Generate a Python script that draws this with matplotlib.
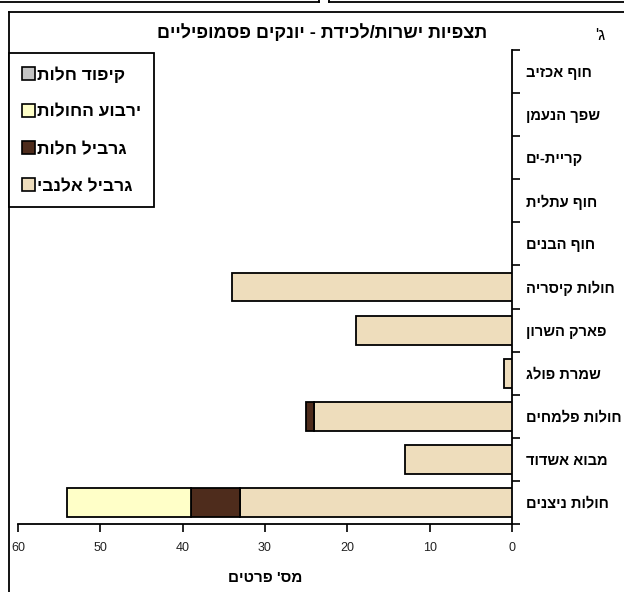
import matplotlib
matplotlib.use("Agg")
import matplotlib.pyplot as plt
from matplotlib.lines import Line2D
from matplotlib.patches import Patch
import numpy as np

plt.rcParams['font.family'] = ['Liberation Sans', 'DejaVu Sans']

# ---- data (logical order, top to bottom) ----
categories = ["חוף אכזיב", "שפך הנעמן", "קריית-ים", "חוף עתלית", "חוף הבנים",
              "חולות קיסריה", "פארק השרון", "שמרת פולג", "חולות פלמחים",
              "מבוא אשדוד", "חולות ניצנים"]
gerbil_allenby = [0, 0, 0, 0, 0, 34, 19, 1, 24, 13, 33]
gerbil_sands = [0, 0, 0, 0, 0, 0, 0, 0, 1, 0, 6]
jerboa = [0, 0, 0, 0, 0, 0, 0, 0, 0, 0, 15]
hedgehog = [0, 0, 0, 0, 0, 0, 0, 0, 0, 0, 0]
series_names = ["גרביל אלנבי", "גרביל חלות", "ירבוע החולות", "קיפוד חלות"]
x_ticks = [0, 10, 20, 30, 40, 50, 60]
title = "תצפיות ישרות/לכידת - יונקים פסמופיליים"
corner = "ג'"
x_label = "מס' פרטים"


def heb(s):
    # visual (right-to-left) order for a left-to-right renderer
    return s[::-1]


colors = ["#EEDDBC", "#4E2C1C", "#FFFFC8", "#C4C4C4"]

W, H = 624, 592
fig = plt.figure(figsize=(W / 100, H / 100), dpi=100)

# axes placement in pixels
ax_l, ax_r, ax_t, ax_b = 18, 512, 50, 524
ax = fig.add_axes([ax_l / W, 1 - ax_b / H, (ax_r - ax_l) / W, (ax_b - ax_t) / H])

n = len(categories)
y = np.arange(n)
series = [gerbil_allenby, gerbil_sands, jerboa, hedgehog]
left = np.zeros(n)
for vals, col in zip(series, colors):
    vals = np.array(vals, dtype=float)
    lw = [1.3 if v > 0 else 0 for v in vals]
    ax.barh(y, vals, left=left, height=0.67, color=col, edgecolor="black",
            linewidth=lw, zorder=3)
    left += vals

ax.set_ylim(n - 0.5, -0.5)
ax.set_xlim(60, 0)
ax.yaxis.tick_right()
ax.set_yticks(y)
ax.set_yticklabels([heb(c) for c in categories], fontsize=10.5, fontweight='bold')
ax.set_yticks(np.arange(-0.5, n, 1), minor=True)
ax.tick_params(axis='y', which='major', length=0, pad=10)
ax.tick_params(axis='y', which='minor', length=6, width=1.2, direction='out')
ax.set_xticks(x_ticks)
ax.set_xticklabels([str(v) for v in x_ticks], fontsize=9, color="#222222")
ax.tick_params(axis='x', length=6, width=1.2, direction='out', pad=7)

for s in ["left", "top"]:
    ax.spines[s].set_visible(False)
for s in ["right", "bottom"]:
    ax.spines[s].set_linewidth(1.3)

ax.set_xlabel(heb(x_label), fontsize=11, fontweight='bold', labelpad=12)

# legend (reverse order, Excel style)
handles = [Patch(facecolor=colors[i], edgecolor="black", linewidth=1.2)
           for i in [3, 2, 1, 0]]
labels = [heb(series_names[i]) for i in [3, 2, 1, 0]]
leg = fig.legend(handles, labels, loc="upper left",
                 bbox_to_anchor=(9 / W, 1 - 53 / H),
                 bbox_transform=fig.transFigure,
                 fancybox=False, edgecolor="black", framealpha=1,
                 handlelength=0.75, handleheight=0.75, handletextpad=0.1,
                 labelspacing=1.25, borderpad=0.75, borderaxespad=0,
                 prop={'size': 12.5, 'weight': 'bold'})
leg.get_frame().set_linewidth(1.3)

# title texts
fig.text(322 / W, 1 - 33 / H, heb(title), ha="center", va="center",
         fontsize=13, fontweight='bold')
fig.text(600 / W, 1 - 35 / H, heb(corner), ha="center", va="center",
         fontsize=12)

# outer frame lines
def fline(x0, y0, x1, y1, lw=1.3):
    fig.add_artist(Line2D([x0 / W, x1 / W], [1 - y0 / H, 1 - y1 / H],
                          transform=fig.transFigure, color="black", lw=lw))

fline(9, 12, 624, 12)
fline(9, 12, 9, 592)
fline(0, 2, 319, 2)
fline(319, 0, 319, 2)
fline(329, 2, 624, 2)
fline(329, 0, 329, 2)

fig.savefig("out.png", dpi=100)
